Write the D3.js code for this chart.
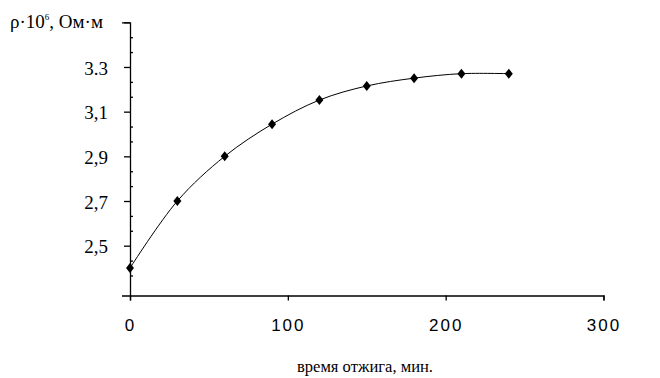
<!DOCTYPE html>
<html>
<head>
<meta charset="utf-8">
<script src="https://cdn.jsdelivr.net/npm/d3@7"></script>
<style>
  body { margin: 0; background: #fff; }
</style>
</head>
<body>
<div id="chart-area"></div>
<script>
// data
const times = [0, 30, 60, 90, 120, 150, 180, 210, 240];
const rho = [2.4, 2.7, 2.9, 3.044, 3.152, 3.215, 3.25, 3.27, 3.27];
const yTicks = [2.5, 2.7, 2.9, 3.1, 3.3, 3.5];
const yTickLabels = ["2,5", "2,7", "2,9", "3,1", "3.3", ""];
const xTicks = [0, 100, 200, 300];

const SERIF = '"Liberation Serif", "Times New Roman", serif';
const SANS = '"Liberation Sans", Arial, sans-serif';

const W = 660, H = 378;
const margin = {top: 22, right: 56, bottom: 82, left: 130};

const svg = d3.select("#chart-area")
  .append("svg")
    .attr("width", W)
    .attr("height", H);

const x = d3.scaleLinear().domain([0, 300]).range([margin.left, W - margin.right - 0.5]);
const y = d3.scaleLinear().domain([2.277, 3.5]).range([H - margin.bottom - 0.5, margin.top + 0.3]);

// y axis with major ticks on the left
const yAxis = svg.append("g")
  .attr("transform", `translate(${margin.left}, 0)`)
  .call(d3.axisLeft(y)
    .tickValues(yTicks)
    .tickFormat((d, i) => yTickLabels[i])
    .tickSize(6)
    .tickSizeOuter(8)
    .tickPadding(16));

yAxis.selectAll("text")
  .style("font-family", SERIF)
  .style("font-size", "19px")
  .attr("dy", "0.38em")
  .attr("fill", "#000");

// minor ticks, three parts per major step, on the right side
const minor = [];
for (let k = 1; k <= 20; k++) {
  const v = 3.5 - k * 0.2 / 3;
  if (v > 2.285 && k % 3 !== 0) minor.push(v);
}
svg.append("g")
  .attr("transform", `translate(${margin.left}, 0)`)
  .call(d3.axisRight(y).tickValues(minor).tickSize(3).tickFormat(""))
  .call(g => g.select(".domain").remove());

// x axis
const xAxis = svg.append("g")
  .attr("transform", `translate(0, ${y.range()[0]})`)
  .call(d3.axisBottom(x)
    .tickValues(xTicks)
    .tickSize(5)
    .tickSizeOuter(5)
    .tickPadding(18));

xAxis.selectAll("text")
  .style("font-family", SANS)
  .style("font-size", "17px")
  .attr("letter-spacing", "2px")
  .attr("fill", "#000");

svg.selectAll(".domain, .tick line")
  .attr("stroke", "#000")
  .attr("stroke-width", 1.3);

// axis titles
const yTitle = svg.append("text")
  .attr("x", 10)
  .attr("y", 28)
  .style("font-family", SERIF)
  .style("font-size", "19px")
  .attr("fill", "#000");
yTitle.append("tspan").text("ρ·10");
yTitle.append("tspan").style("font-size", "9px").attr("dy", -8).text("6");
yTitle.append("tspan").attr("dy", 8).text(", Ом·м");

svg.append("text")
  .attr("x", 365)
  .attr("y", 372)
  .attr("text-anchor", "middle")
  .style("font-family", SERIF)
  .style("font-size", "16px")
  .attr("fill", "#000")
  .attr("textLength", 136)
  .attr("lengthAdjust", "spacingAndGlyphs")
  .text("время отжига,  мин.");

// smoothed line
const pts = times.map((t, i) => [t, rho[i]]);
svg.append("path")
  .datum(pts)
  .attr("fill", "none")
  .attr("stroke", "#000")
  .attr("stroke-width", 1)
  .attr("d", d3.line()
    .curve(d3.curveCatmullRom.alpha(0.5))
    .x(d => x(d[0]))
    .y(d => y(d[1])));

// diamond markers
svg.selectAll(".marker")
  .data(pts)
  .join("path")
    .attr("class", "marker")
    .attr("transform", d => `translate(${x(d[0])}, ${y(d[1])})`)
    .attr("d", "M0,-5L4,0L0,5L-4,0Z")
    .attr("fill", "#000");
</script>
</body>
</html>
